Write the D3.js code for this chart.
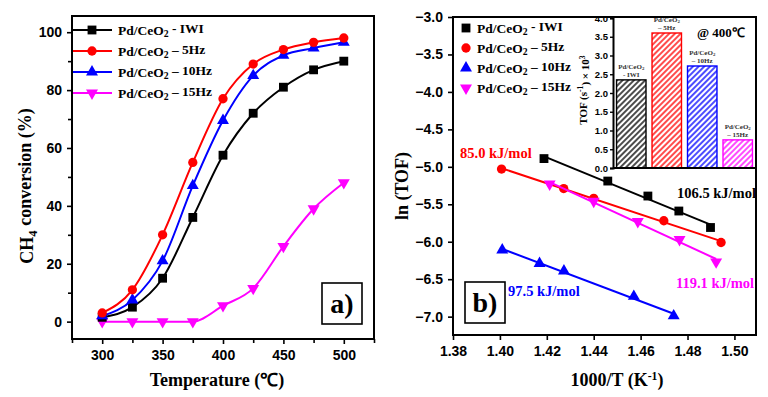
<!DOCTYPE html>
<html>
<head>
<meta charset="utf-8">
<script src="https://cdn.jsdelivr.net/npm/d3@7"></script>
<style>
  body { margin: 0; background: #fff; }
  svg { display: block; }
  .tick text { font-family: "Liberation Sans", Arial, sans-serif; font-weight: bold; }
  .ttl { font-family: "Liberation Serif", "Times New Roman", serif; font-weight: bold; }
</style>
</head>
<body>
<svg width="768" height="397"></svg>
<script>
// ---- data ----
var names = ["- IWI", "\u2013 5Hz", "\u2013 10Hz", "\u2013 15Hz"];
var colors = ["#000000", "#ff0000", "#0000ff", "#ff00ff"];

// panel a) conversion vs temperature
var temps = [300, 325, 350, 375, 400, 425, 450, 475, 500];
var convIWI = [1.5, 5, 15, 36, 57.5, 72, 81, 87, 90];
var conv5Hz = [3, 11, 30, 55, 77, 89, 94, 96.5, 98];
var conv10Hz = [2, 7.5, 21, 47, 69.5, 85, 92, 94.5, 96.5];
var conv15Hz = [0, 0, 0, 0, 5.5, 11.5, 26, 39, 48];

// panel b) Arrhenius
var invT_IWI = [1.4188, 1.446, 1.4631, 1.4763, 1.4898];
var lnTOF_IWI = [-4.89, -5.19, -5.39, -5.59, -5.81];
var invT_5Hz = [1.4007, 1.4272, 1.44, 1.4699, 1.4943];
var lnTOF_5Hz = [-5.03, -5.29, -5.42, -5.72, -6.01];
var invT_10Hz = [1.401, 1.4169, 1.4273, 1.4571, 1.4741];
var lnTOF_10Hz = [-6.11, -6.29, -6.39, -6.73, -6.99];
var invT_15Hz = [1.4212, 1.44, 1.4588, 1.4766, 1.4922];
var lnTOF_15Hz = [-5.23, -5.46, -5.73, -5.97, -6.27];
var eaLabels = ["106.5 kJ/mol", "85.0 kJ/mol", "97.5 kJ/mol", "119.1 kJ/mol"];

// inset TOF at 400 C
var tofValues = [2.35, 3.6, 2.72, 0.75];

var svg = d3.select("svg");

var symbols = [
  {type: d3.symbolSquare, size: 78, rot: 0},
  {type: d3.symbolCircle, size: 68, rot: 0},
  {type: d3.symbolTriangle, size: 62, rot: 0},
  {type: d3.symbolTriangle, size: 62, rot: 180}
];
function marker(sel, i) {
  sel.attr("d", d3.symbol().type(symbols[i].type).size(symbols[i].size)())
    .attr("fill", colors[i]);
}

// "Pd/CeO2 ..." label with subscript
function sampleText(t, name) {
  t.append("tspan").text("Pd/CeO");
  t.append("tspan").attr("font-size", "0.72em").attr("dy", "0.3em").text("2");
  t.append("tspan").attr("dy", "-0.3em").text(" " + name);
}

// ================= panel a =================
var a = {left: 72, top: 16, right: 374, bottom: 339};
var xA = d3.scaleLinear().domain([275, 525]).range([a.left, a.right]);
var yA = d3.scaleLinear().domain([-6, 105.6]).range([a.bottom, a.top]);
var gA = svg.append("g");

gA.append("g")
    .attr("transform", "translate(0," + a.bottom + ")")
    .call(d3.axisBottom(xA).tickValues([300, 350, 400, 450, 500]).tickSize(5).tickPadding(6).tickFormat(d3.format("d")))
    .call(function(g) { g.selectAll("text").attr("font-size", 14).attr("fill", "#000"); });
gA.append("g")
    .attr("transform", "translate(0," + a.bottom + ")")
    .call(d3.axisBottom(xA).tickValues([275, 325, 375, 425, 475, 525]).tickSize(4).tickFormat(""));
gA.append("g")
    .attr("transform", "translate(" + a.left + ",0)")
    .call(d3.axisLeft(yA).tickValues([0, 20, 40, 60, 80, 100]).tickSize(5).tickPadding(5))
    .call(function(g) { g.selectAll("text").attr("font-size", 14).attr("fill", "#000"); });
gA.append("g")
    .attr("transform", "translate(" + a.left + ",0)")
    .call(d3.axisLeft(yA).tickValues([10, 30, 50, 70, 90]).tickSize(4).tickFormat(""));
gA.selectAll(".domain").remove();
gA.selectAll(".tick line").attr("stroke", "#000").attr("stroke-width", 1.6);

var convSeries = [convIWI, conv5Hz, conv10Hz, conv15Hz];
var lineA = d3.line()
    .curve(d3.curveMonotoneX)
    .x(function(d, i) { return xA(temps[i]); })
    .y(function(d) { return yA(d); });

[3, 0, 2, 1].forEach(function(k) {
  var s = convSeries[k];
  gA.append("path")
      .attr("d", lineA(s))
      .attr("fill", "none")
      .attr("stroke", colors[k])
      .attr("stroke-width", 2);
  gA.selectAll(null)
      .data(s)
      .enter().append("path")
      .attr("transform", function(d, i) {
        return "translate(" + xA(temps[i]) + "," + yA(d) + ") rotate(" + symbols[k].rot + ")";
      })
      .call(marker, k);
});

// legend a
var legA = [30, 51, 72, 93];
names.forEach(function(n, i) {
  gA.append("line")
      .attr("x1", a.left + 1).attr("x2", 112)
      .attr("y1", legA[i]).attr("y2", legA[i])
      .attr("stroke", colors[i]).attr("stroke-width", 2);
  gA.append("path")
      .attr("transform", "translate(92," + legA[i] + ") rotate(" + symbols[i].rot + ")")
      .call(marker, i);
  var t = gA.append("text").attr("class", "ttl")
      .attr("x", 118).attr("y", legA[i] + 4.5)
      .attr("font-size", 13.5);
  sampleText(t, n);
});

// a) box
gA.append("rect").attr("x", 322).attr("y", 283).attr("width", 40).attr("height", 41)
    .attr("fill", "#fff").attr("stroke", "#000").attr("stroke-width", 1.6);
gA.append("text").attr("class", "ttl").attr("x", 342).attr("y", 313)
    .attr("text-anchor", "middle").attr("font-size", 28).text("a)");

gA.append("rect")
    .attr("x", a.left).attr("y", a.top)
    .attr("width", a.right - a.left).attr("height", a.bottom - a.top)
    .attr("fill", "none").attr("stroke", "#000").attr("stroke-width", 2);

var yTitleA = gA.append("text").attr("class", "ttl")
    .attr("transform", "translate(33,186) rotate(-90)")
    .attr("text-anchor", "middle").attr("font-size", 18);
yTitleA.append("tspan").text("CH");
yTitleA.append("tspan").attr("font-size", "0.7em").attr("dy", "0.3em").text("4");
yTitleA.append("tspan").attr("dy", "-0.3em").text(" conversion (%)");

gA.append("text").attr("class", "ttl")
    .attr("x", 217).attr("y", 386)
    .attr("text-anchor", "middle").attr("font-size", 18)
    .text("Temperature (\u2103)");

// ================= panel b =================
var b = {left: 453, top: 17, right: 756, bottom: 335};
var xB = d3.scaleLinear().domain([1.38, 1.5092]).range([b.left, b.right]);
var yB = d3.scaleLinear().domain([-7.245, -3.0]).range([b.bottom, b.top]);
var gB = svg.append("g");

gB.append("g")
    .attr("transform", "translate(0," + b.bottom + ")")
    .call(d3.axisBottom(xB).tickValues([1.38, 1.40, 1.42, 1.44, 1.46, 1.48, 1.50]).tickSize(5).tickPadding(6).tickFormat(d3.format(".2f")))
    .call(function(g) { g.selectAll("text").attr("font-size", 14).attr("fill", "#000"); });
gB.append("g")
    .attr("transform", "translate(" + b.left + ",0)")
    .call(d3.axisLeft(yB).tickValues([-3, -3.5, -4, -4.5, -5, -5.5, -6, -6.5, -7]).tickSize(5).tickPadding(5).tickFormat(d3.format(".1f")))
    .call(function(g) { g.selectAll("text").attr("font-size", 14).attr("fill", "#000"); });
gB.selectAll(".domain").remove();
gB.selectAll(".tick line").attr("stroke", "#000").attr("stroke-width", 1.6);

var arrX = [invT_IWI, invT_5Hz, invT_10Hz, invT_15Hz];
var arrY = [lnTOF_IWI, lnTOF_5Hz, lnTOF_10Hz, lnTOF_15Hz];

// least-squares fit line per sample
[0, 1, 3, 2].forEach(function(k) {
  var xs = arrX[k], ys = arrY[k];
  var mx = d3.mean(xs), my = d3.mean(ys);
  var slope = d3.sum(xs, function(x, i) { return (x - mx) * (ys[i] - my); }) /
              d3.sum(xs, function(x) { return (x - mx) * (x - mx); });
  var x0 = d3.min(xs), x1 = d3.max(xs);
  gB.append("line")
      .attr("x1", xB(x0)).attr("y1", yB(my + slope * (x0 - mx)))
      .attr("x2", xB(x1)).attr("y2", yB(my + slope * (x1 - mx)))
      .attr("stroke", colors[k]).attr("stroke-width", 2);
  gB.selectAll(null)
      .data(ys)
      .enter().append("path")
      .attr("transform", function(d, i) {
        return "translate(" + xB(xs[i]) + "," + yB(d) + ") rotate(" + symbols[k].rot + ")";
      })
      .call(marker, k);
});

// activation energy labels
var eaPos = [[677, 198], [460, 158], [508, 296], [676, 288]];
eaLabels.forEach(function(s, i) {
  gB.append("text").attr("class", "ttl")
      .attr("x", eaPos[i][0]).attr("y", eaPos[i][1])
      .attr("font-size", 14.5).attr("fill", colors[i]).text(s);
});

// legend b
var legB = [28, 48, 68, 88];
names.forEach(function(n, i) {
  gB.append("path")
      .attr("transform", "translate(466," + legB[i] + ") rotate(" + symbols[i].rot + ")")
      .call(marker, i);
  var t = gB.append("text").attr("class", "ttl")
      .attr("x", 477).attr("y", legB[i] + 4.5)
      .attr("font-size", 13.5);
  sampleText(t, n);
});

// b) box
gB.append("rect").attr("x", 465).attr("y", 282).attr("width", 40).attr("height", 41)
    .attr("fill", "#fff").attr("stroke", "#000").attr("stroke-width", 1.6);
gB.append("text").attr("class", "ttl").attr("x", 485).attr("y", 312)
    .attr("text-anchor", "middle").attr("font-size", 28).text("b)");

gB.append("text").attr("class", "ttl")
    .attr("transform", "translate(408,186) rotate(-90)")
    .attr("text-anchor", "middle").attr("font-size", 18)
    .text("ln (TOF)");

var xTitleB = gB.append("text").attr("class", "ttl")
    .attr("x", 617).attr("y", 386)
    .attr("text-anchor", "middle").attr("font-size", 18);
xTitleB.append("tspan").text("1000/T (K");
xTitleB.append("tspan").attr("font-size", "0.65em").attr("dy", "-0.55em").text("-1");
xTitleB.append("tspan").attr("dy", "0.35em").text(")");

gB.append("rect")
    .attr("x", b.left).attr("y", b.top)
    .attr("width", b.right - b.left).attr("height", b.bottom - b.top)
    .attr("fill", "none").attr("stroke", "#000").attr("stroke-width", 2);

// ================= inset =================
var ins = {left: 613, top: 18, right: 756, bottom: 168};
var xI = d3.scaleBand().domain(names).range([ins.left, ins.right]).paddingInner(0.17).paddingOuter(0.1);
var yI = d3.scaleLinear().domain([0, 4]).range([ins.bottom, ins.top]);
var gI = svg.append("g");

var defs = svg.append("defs");
colors.forEach(function(c, i) {
  defs.append("pattern")
      .attr("id", "hatch" + i)
      .attr("patternUnits", "userSpaceOnUse")
      .attr("width", 4).attr("height", 4)
      .attr("patternTransform", "rotate(45)")
    .append("line")
      .attr("x1", 1).attr("y1", 0).attr("x2", 1).attr("y2", 4)
      .attr("stroke", c).attr("stroke-width", 1.4);
});

gI.append("rect")
    .attr("x", ins.left).attr("y", ins.top)
    .attr("width", ins.right - ins.left - 1).attr("height", ins.bottom - ins.top)
    .attr("fill", "#fff");

gI.selectAll(".bar")
    .data(tofValues)
    .enter().append("rect")
    .attr("class", "bar")
    .attr("x", function(d, i) { return xI(names[i]); })
    .attr("y", function(d) { return yI(d); })
    .attr("width", xI.bandwidth())
    .attr("height", function(d) { return yI(0) - yI(d); })
    .attr("fill", function(d, i) { return "url(#hatch" + i + ")"; })
    .attr("stroke", function(d, i) { return colors[i]; })
    .attr("stroke-width", 1.4);

tofValues.forEach(function(v, i) {
  var cx = xI(names[i]) + xI.bandwidth() / 2;
  var t = gI.append("text").attr("class", "ttl")
      .attr("x", cx).attr("y", yI(v) - 11)
      .attr("text-anchor", "middle").attr("font-size", 7).attr("fill", "#333");
  t.append("tspan").text("Pd/CeO");
  t.append("tspan").attr("font-size", "0.7em").attr("dy", "0.3em").text("2");
  gI.append("text").attr("class", "ttl")
      .attr("x", cx).attr("y", yI(v) - 3)
      .attr("text-anchor", "middle").attr("font-size", 7).attr("fill", "#333")
      .text(names[i]);
});

gI.append("g")
    .attr("transform", "translate(" + ins.left + ",0)")
    .call(d3.axisLeft(yI).tickValues(d3.range(0, 4.01, 0.5)).tickSize(3).tickPadding(2).tickFormat(d3.format(".1f")))
    .call(function(g) {
      g.selectAll("text").attr("font-size", 9.5).attr("fill", "#000");
      g.select(".domain").attr("stroke", "#000").attr("stroke-width", 2);
      g.selectAll(".tick line").attr("stroke", "#000").attr("stroke-width", 1.4);
    });
gI.append("line")
    .attr("x1", ins.left).attr("x2", ins.right)
    .attr("y1", ins.bottom).attr("y2", ins.bottom)
    .attr("stroke", "#000").attr("stroke-width", 2);

gI.append("text").attr("class", "ttl")
    .attr("x", 697).attr("y", 37).attr("font-size", 13)
    .text("@ 400\u2103");

var yTitleI = gI.append("text").attr("class", "ttl")
    .attr("transform", "translate(587,90) rotate(-90)")
    .attr("text-anchor", "middle").attr("font-size", 11);
yTitleI.append("tspan").text("TOF (s");
yTitleI.append("tspan").attr("font-size", "0.7em").attr("dy", "-0.5em").text("-1");
yTitleI.append("tspan").attr("dy", "0.5em").text(") \u00d7 10");
yTitleI.append("tspan").attr("font-size", "0.7em").attr("dy", "-0.5em").text("3");
</script>
</body>
</html>
